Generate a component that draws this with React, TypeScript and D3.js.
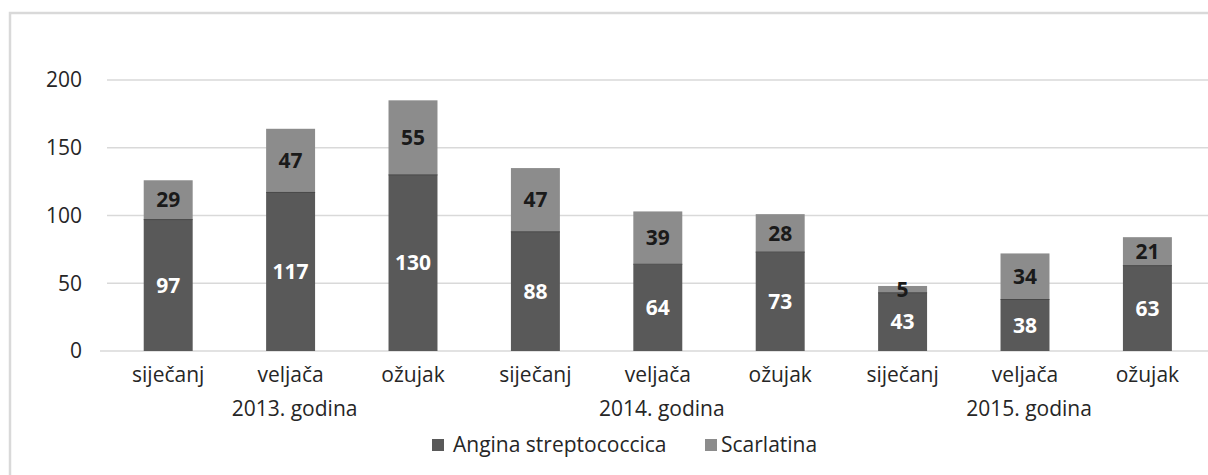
import React from 'react';
import * as d3 from 'd3';

const W = 1208;
const H = 475;
const margin = { top: 80, right: 0, bottom: 124, left: 107 };

// categories: month + year group
const months = ['siječanj', 'veljača', 'ožujak', 'siječanj', 'veljača', 'ožujak', 'siječanj', 'veljača', 'ožujak'];
const years = ['2013. godina', '2014. godina', '2015. godina'];
const angina = [97, 117, 130, 88, 64, 73, 43, 38, 63];
const scarlatina = [29, 47, 55, 47, 39, 28, 5, 34, 21];
const yTicks = [0, 50, 100, 150, 200];
const seriesNames = ['Angina streptococcica', 'Scarlatina'];
const colors = ['#595959', '#8c8c8c'];

const font = '"Open Sans", "DejaVu Sans", sans-serif';
const textColor = '#262626';

const App = () => {
  const keys = months.map((_, i) => String(i));
  const x = d3
    .scaleBand()
    .domain(keys)
    .range([margin.left, margin.left + 9 * 122.4])
    .paddingInner(0.6)
    .paddingOuter(0.3);
  const y = d3.scaleLinear().domain([0, 200]).range([351, 80]);

  const rows = months.map((m, i) => ({ key: String(i), a: angina[i], s: scarlatina[i] }));
  const stacked = d3.stack<any>().keys(['a', 's'])(rows);

  const groupCenter = (g: number) => (x(String(g * 3 + 1)) || 0) + x.bandwidth() / 2;

  return (
    <svg width={W} height={H} style={{ position: 'absolute', left: 0, top: 0, background: '#fff' }}>
      {/* outer frame, cut off on the right and bottom */}
      <rect x={10} y={13} width={W + 20} height={H + 20} fill="#fff" stroke="#d9d9d9" strokeWidth={2.5} />

      {/* gridlines */}
      {yTicks.map(t => (
        <line key={t} x1={t === 0 ? 100 : margin.left} x2={W} y1={y(t)} y2={y(t)} stroke="#d9d9d9" strokeWidth={1.5} />
      ))}
      {yTicks.map(t => (
        <text key={'l' + t} x={82} y={y(t)} dy="0.35em" textAnchor="end" fontFamily={font} fontSize={21} fill={textColor}>
          {t}
        </text>
      ))}

      {/* bars */}
      {stacked.map((layer, li) => (
        <g key={li} fill={colors[li]}>
          {layer.map((d, i) => (
            <rect key={i} x={x(String(i))} y={y(d[1])} width={x.bandwidth()} height={y(d[0]) - y(d[1])} />
          ))}
        </g>
      ))}
      {/* separator between segments */}
      {stacked[0].map((d, i) => (
        <line key={'sep' + i} x1={x(String(i))} x2={(x(String(i)) || 0) + x.bandwidth()} y1={y(d[1])} y2={y(d[1])} stroke="#474747" strokeWidth={1} />
      ))}

      {/* value labels */}
      {stacked.map((layer, li) =>
        layer.map((d, i) => (
          <text
            key={li + '-' + i}
            x={(x(String(i)) || 0) + x.bandwidth() / 2}
            y={(y(d[0]) + y(d[1])) / 2}
            dy="0.36em"
            textAnchor="middle"
            fontFamily={font}
            fontWeight="bold"
            fontSize={21}
            fill={li === 0 ? '#ffffff' : '#1a1a1a'}
          >
            {d[1] - d[0]}
          </text>
        ))
      )}

      {/* category labels */}
      {months.map((m, i) => (
        <text key={'m' + i} x={(x(String(i)) || 0) + x.bandwidth() / 2} y={375} dy="0.35em" textAnchor="middle" fontFamily={font} fontSize={21} fill={textColor}>
          {m}
        </text>
      ))}
      {years.map((yr, g) => (
        <text key={yr} x={groupCenter(g) + 4} y={409} dy="0.35em" textAnchor="middle" fontFamily={font} fontSize={21} fill={textColor}>
          {yr}
        </text>
      ))}

      {/* legend */}
      <g fontFamily={font} fontSize={21} fill={textColor}>
        <rect x={432} y={439} width={12} height={12} fill={colors[0]} />
        <text x={453} y={445} dy="0.35em">{seriesNames[0]}</text>
        <rect x={705} y={439} width={12} height={12} fill={colors[1]} />
        <text x={721} y={445} dy="0.35em">{seriesNames[1]}</text>
      </g>
    </svg>
  );
};

export default App;
